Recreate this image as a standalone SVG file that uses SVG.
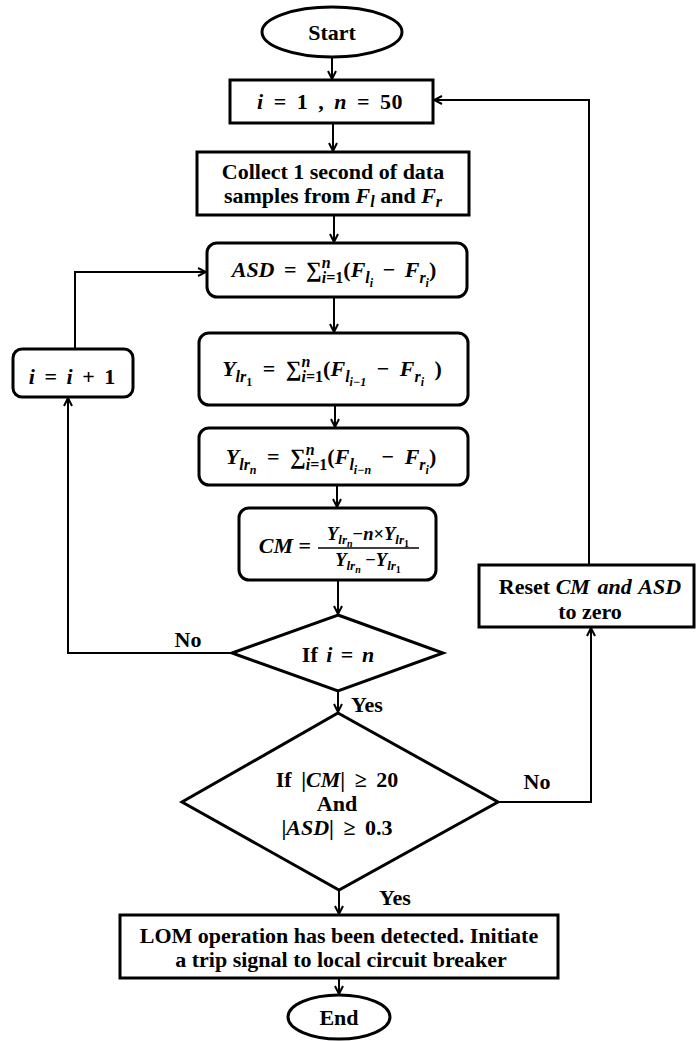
<svg xmlns="http://www.w3.org/2000/svg" width="697" height="1041" viewBox="0 0 697 1041">
<style>
.t{font-family:"Liberation Serif","Times New Roman",serif;font-weight:bold;font-size:22px;fill:#000;text-anchor:middle}
.m{word-spacing:4px}
.i{font-style:italic}
.s{font-size:16px}
.ss{font-size:12px}
.f{font-size:18.5px}
.fs{font-size:13px}
.fss{font-size:10px}
.box{fill:#fff;stroke:#000;stroke-width:3}
.c{fill:none;stroke:#000;stroke-width:2}
</style>
<defs>
<marker id="a" viewBox="0 0 10 10" refX="9" refY="5" markerWidth="10" markerHeight="10" markerUnits="userSpaceOnUse" orient="auto">
<path d="M1,1 L9,5 L1,9" fill="none" stroke="#000" stroke-width="2"/>
</marker>
</defs>
<rect width="697" height="1041" fill="#fff"/>
<g id="connectors">
<line class="c" x1="332" y1="57" x2="332" y2="79" marker-end="url(#a)"/>
<line class="c" x1="333" y1="123" x2="333" y2="151" marker-end="url(#a)"/>
<line class="c" x1="334" y1="215" x2="334" y2="242" marker-end="url(#a)"/>
<line class="c" x1="334" y1="297" x2="334" y2="332" marker-end="url(#a)"/>
<line class="c" x1="335" y1="405" x2="335" y2="427" marker-end="url(#a)"/>
<line class="c" x1="337" y1="485" x2="337" y2="507" marker-end="url(#a)"/>
<line class="c" x1="338" y1="580" x2="338" y2="614" marker-end="url(#a)"/>
<line class="c" x1="338" y1="691" x2="338" y2="712" marker-end="url(#a)"/>
<line class="c" x1="339" y1="890" x2="339" y2="914" marker-end="url(#a)"/>
<line class="c" x1="339" y1="978" x2="339" y2="994" marker-end="url(#a)"/>
<polyline class="c" points="232,653 68,653 68,398" marker-end="url(#a)"/>
<polyline class="c" points="75,349 75,272 206,272" marker-end="url(#a)"/>
<polyline class="c" points="498,802 591,802 591,628" marker-end="url(#a)"/>
<polyline class="c" points="589,565 589,100 434,100" marker-end="url(#a)"/>
<text class="t" x="188" y="647">No</text>
<text class="t" x="367" y="712">Yes</text>
<text class="t" x="537" y="789">No</text>
<text class="t" x="395" y="905">Yes</text>
</g>
<g id="start">
<ellipse class="box" cx="332" cy="32" rx="70" ry="25"/>
<text class="t" x="332" y="40">Start</text>
</g>
<g id="init">
<rect class="box" x="230" y="80" width="203" height="43"/>
<text class="t m" x="330" y="109" letter-spacing="0.5"><tspan class="i">i</tspan> = 1 , <tspan class="i">n</tspan> = 50</text>
</g>
<g id="collect">
<rect class="box" x="197" y="152" width="272" height="63"/>
<text class="t" x="333" y="179">Collect 1 second of data</text>
<text class="t" x="333" y="203">samples from <tspan class="i">F</tspan><tspan class="s i" dy="4">l</tspan><tspan dy="-4"> and </tspan><tspan class="i">F</tspan><tspan class="s i" dy="4">r</tspan></text>
</g>
<g id="asd">
<rect class="box" x="207" y="243" width="260" height="54" rx="10"/>
<text class="t" x="334" y="277" word-spacing="4"><tspan class="i">ASD</tspan> = ∑<tspan class="s" dy="6"><tspan class="i">i</tspan>=1</tspan><tspan class="s i" dx="-21.6" dy="-15">n</tspan><tspan dx="12.7" dy="9">(</tspan><tspan class="i">F</tspan><tspan class="s i" dy="6">l</tspan><tspan class="ss i" dy="4">i</tspan><tspan dy="-10"> − </tspan><tspan class="i">F</tspan><tspan class="s i" dy="6">r</tspan><tspan class="ss i" dy="4">i</tspan><tspan dy="-10">)</tspan></text>
</g>
<g id="ylr1">
<rect class="box" x="199" y="333" width="269" height="72" rx="10"/>
<text class="t" x="332" y="376" word-spacing="5"><tspan class="i">Y</tspan><tspan class="s i" dy="6">lr</tspan><tspan class="ss" dy="4">1</tspan><tspan dy="-10"> = ∑</tspan><tspan class="s" dy="6"><tspan class="i">i</tspan>=1</tspan><tspan class="s i" dx="-21.6" dy="-15">n</tspan><tspan dx="12.7" dy="9">(</tspan><tspan class="i">F</tspan><tspan class="s i" dy="6">l</tspan><tspan class="ss i" dy="4">i−1</tspan><tspan dy="-10"> − </tspan><tspan class="i">F</tspan><tspan class="s i" dy="6">r</tspan><tspan class="ss i" dy="4">i</tspan><tspan dy="-10"> )</tspan></text>
</g>
<g id="ylrn">
<rect class="box" x="199" y="428" width="269" height="57" rx="10"/>
<text class="t" x="331" y="464" word-spacing="5"><tspan class="i">Y</tspan><tspan class="s i" dy="6">lr</tspan><tspan class="ss i" dy="4">n</tspan><tspan dy="-10"> = ∑</tspan><tspan class="s" dy="6"><tspan class="i">i</tspan>=1</tspan><tspan class="s i" dx="-21.6" dy="-15">n</tspan><tspan dx="12.7" dy="9">(</tspan><tspan class="i">F</tspan><tspan class="s i" dy="6">l</tspan><tspan class="ss i" dy="4">i−n</tspan><tspan dy="-10"> − </tspan><tspan class="i">F</tspan><tspan class="s i" dy="6">r</tspan><tspan class="ss i" dy="4">i</tspan><tspan dy="-10">)</tspan></text>
</g>
<g id="cm">
<rect class="box" x="239" y="508" width="197" height="72" rx="10"/>
<text class="t i" x="285" y="553">CM<tspan font-style="normal"> =</tspan></text>
<line x1="318" y1="548" x2="419" y2="548" stroke="#000" stroke-width="1.5"/>
<text class="t f" x="368" y="540"><tspan class="i">Y</tspan><tspan class="fs i" dy="4">lr</tspan><tspan class="fss i" dy="3">n</tspan><tspan dy="-7">−</tspan><tspan class="i">n</tspan>×<tspan class="i">Y</tspan><tspan class="fs i" dy="4">lr</tspan><tspan class="fss" dy="3">1</tspan></text>
<text class="t f" x="368" y="566"><tspan class="i">Y</tspan><tspan class="fs i" dy="4">lr</tspan><tspan class="fss i" dy="3">n</tspan><tspan dy="-7"> −</tspan><tspan class="i">Y</tspan><tspan class="fs i" dy="4">lr</tspan><tspan class="fss" dy="3">1</tspan></text>
</g>
<g id="dec1">
<polygon class="box" points="338,615 443,653 338,691 232,653"/>
<text class="t" x="338" y="662" word-spacing="3">If <tspan class="i">i</tspan> = <tspan class="i">n</tspan></text>
</g>
<g id="incr">
<rect class="box" x="13" y="349" width="120" height="48" rx="9"/>
<text class="t m" x="72" y="384"><tspan class="i">i</tspan> = <tspan class="i">i</tspan> + 1</text>
</g>
<g id="dec2">
<polygon class="box" points="338,713 498,802 339,890 182,802"/>
<text class="t m" x="337" y="787">If |<tspan class="i">CM</tspan>| ≥ 20</text>
<text class="t" x="337" y="811">And</text>
<text class="t m" x="337" y="835">|<tspan class="i">ASD</tspan>| ≥ 0.3</text>
</g>
<g id="reset">
<rect class="box" x="479" y="565" width="215" height="62"/>
<text class="t" x="590" y="594">Reset <tspan class="i" word-spacing="2">CM and ASD</tspan></text>
<text class="t" x="590" y="619">to zero</text>
</g>
<g id="lom">
<rect class="box" x="120" y="915" width="438" height="63"/>
<text class="t" x="339" y="943">LOM operation has been detected. Initiate</text>
<text class="t" x="341" y="967">a trip signal to local circuit breaker</text>
</g>
<g id="end">
<ellipse class="box" cx="339" cy="1017" rx="51" ry="22"/>
<text class="t" x="339" y="1025">End</text>
</g>
</svg>
